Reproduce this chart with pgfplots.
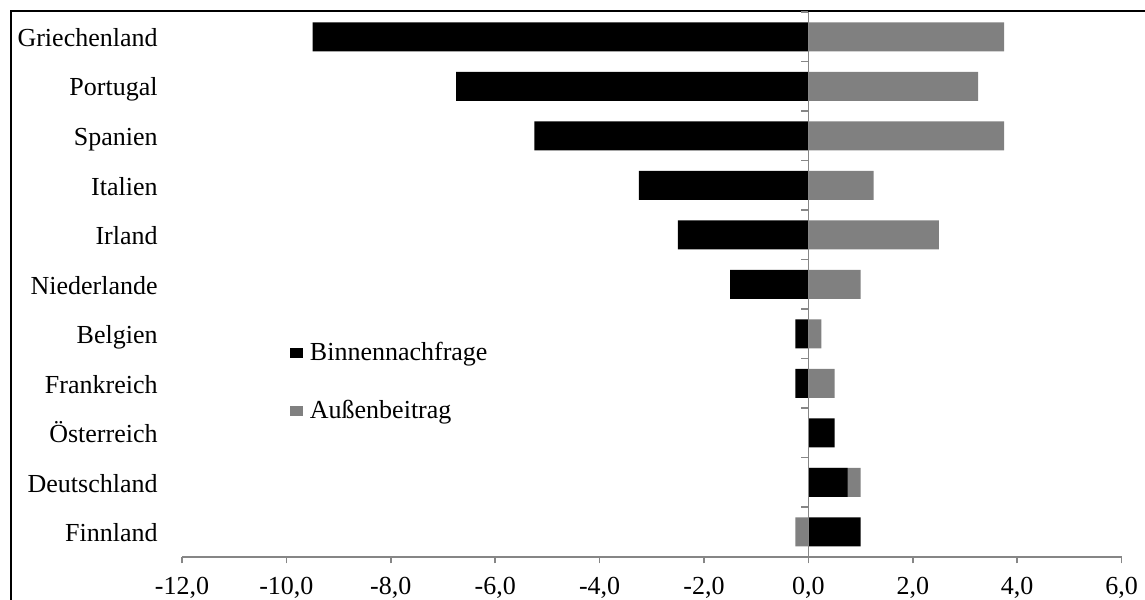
\documentclass[border=0pt]{standalone}
\usepackage{fontspec}
\setmainfont{Liberation Serif}
\usepackage{pgfplots}
\pgfplotsset{compat=1.18}
\definecolor{barGray}{RGB}{128,128,128}
\definecolor{axGray}{RGB}{134,134,134}
\begin{document}
\begin{tikzpicture}[font=\fontsize{13bp}{15.6bp}\selectfont]
\useasboundingbox (0bp,0bp) rectangle (572.5bp,300bp);
\draw[line width=1.4bp] (5.5bp,0bp) -- (5.5bp,294.5bp) -- (572.5bp,294.5bp);
\begin{axis}[
  at={(91bp,21.65bp)}, anchor=south west,
  scale only axis, width=469.8bp, height=272.35bp,
  xmin=-12, xmax=6, ymin=-0.5, ymax=10.5,
  xbar, bar width=14.5bp, bar shift=0pt,
  axis x line*=bottom, axis y line*=left,
  x axis line style={axGray, line width=0.8bp, -},
  y axis line style={draw=none},
  xtick={-12,-10,...,6},
  xtick align=outside, ytick align=inside,
  major tick length=3.3bp,
  xtick style={axGray, line width=0.8bp},
  ytick style={draw=none},
  ytick={0,...,10},
  yticklabels={Finnland,Deutschland,Österreich,Frankreich,Belgien,Niederlande,Irland,Italien,Spanien,Portugal,Griechenland},
  yticklabel style={anchor=base east, inner sep=0pt, xshift=-12bp, yshift=-4.85bp},
  xticklabel style={anchor=base, inner sep=0pt, yshift=-15.6bp},
  /pgf/number format/.cd, fixed, fixed zerofill, precision=1, use comma, assume math mode=true,
  /pgfplots/.cd,
  reverse legend,
  legend cell align=left,
  legend image code/.code={\fill[#1] (0bp,-2.6bp) rectangle (6.7bp,2.6bp);},
  legend style={draw=none, fill=none, at={(axis cs:-9.94,3.833)}, anchor=north west,
    inner sep=0pt, column sep=3.3bp, row sep=18.4bp, nodes={inner sep=0pt}},
]
% Aussenbeitrag (Deutschland drawn as its stacked end, 0.75+0.25)
\addplot[fill=barGray, draw=none] coordinates {(-0.25,0) (1.0,1) (0.5,3) (0.25,4) (1.0,5) (2.5,6) (1.25,7) (3.75,8) (3.25,9) (3.75,10)};
\addlegendentry{Außenbeitrag}
% Binnennachfrage
\addplot[fill=black, draw=none] coordinates {(1.0,0) (0.75,1) (0.5,2) (-0.25,3) (-0.25,4) (-1.5,5) (-2.5,6) (-3.25,7) (-5.25,8) (-6.75,9) (-9.5,10)};
\addlegendentry{Binnennachfrage}
\draw[axGray, line width=0.8bp] (axis cs:0,-0.5) -- (axis cs:0,10.5);
\pgfplotsinvokeforeach{0.5,1.5,2.5,3.5,4.5,5.5,6.5,7.5,8.5,9.5,10.5}{
  \draw[axGray, line width=0.8bp] (axis cs:0,#1) -- ++(-3.5bp,0bp);
}
\end{axis}
\end{tikzpicture}
\end{document}
